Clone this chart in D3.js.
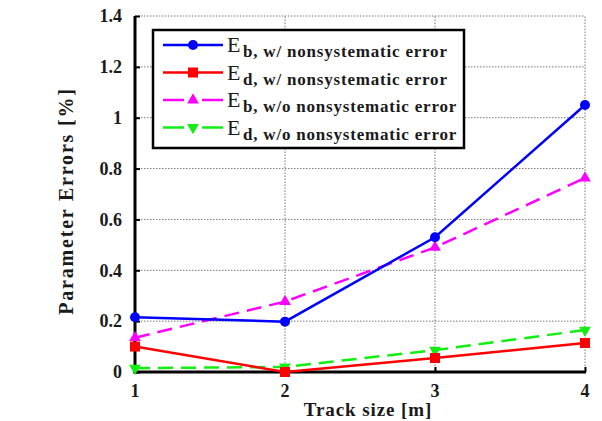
<!DOCTYPE html>
<html><head><meta charset="utf-8">
<script src="https://cdn.jsdelivr.net/npm/d3@7"></script>
<style>body{margin:0;background:#fff}svg{display:block}</style>
</head><body>
<script>
const trackSizes = [1, 2, 3, 4];
const ebWith = [0.215, 0.198, 0.53, 1.05];
const edWith = [0.10, 0.0, 0.055, 0.114];
const ebWithout = [0.135, 0.277, 0.49, 0.763];
const edWithout = [0.015, 0.02, 0.086, 0.165];
const yTicks = [0, 0.2, 0.4, 0.6, 0.8, 1, 1.2, 1.4];
const xTicks = [1, 2, 3, 4];
const seriesSubs = ["b, w/ nonsystematic error", "d, w/ nonsystematic error", "b, w/o nonsystematic error", "d, w/o nonsystematic error"];

const W = 602, H = 421;
const svg = d3.select("body").append("svg").attr("width", W).attr("height", H);
const x = d3.scaleLinear().domain([1, 4]).range([135, 585]);
const y = d3.scaleLinear().domain([0, 1.4]).range([372, 16]);
const font = "'Liberation Serif','Times New Roman',serif";
const txt = "#1a1a1a";

// grid
const g = svg.append("g");
g.selectAll(".hg").data(yTicks.slice(1)).enter().append("line")
  .attr("x1", x(1)).attr("x2", x(4)).attr("y1", d => y(d)).attr("y2", d => y(d))
  .attr("stroke", "#777").attr("stroke-width", 1).attr("stroke-dasharray", "1.5,1.5");
g.selectAll(".vg").data(xTicks.slice(1)).enter().append("line")
  .attr("y1", y(0)).attr("y2", y(1.4)).attr("x1", d => x(d)).attr("x2", d => x(d))
  .attr("stroke", "#777").attr("stroke-width", 1).attr("stroke-dasharray", "1.5,1.5");

// axes
const yAxis = d3.axisRight(y).tickValues(yTicks).tickSize(5).tickFormat("");
const ya = svg.append("g").attr("transform", `translate(${x(1)},0)`).call(yAxis);
ya.select(".domain").remove();
ya.selectAll("line").attr("stroke", "#000").attr("stroke-width", 2);
const xAxis = d3.axisTop(x).tickValues(xTicks).tickSize(5).tickFormat("");
const xa = svg.append("g").attr("transform", `translate(0,${y(0)})`).call(xAxis);
xa.select(".domain").remove();
xa.selectAll("line").attr("stroke", "#000").attr("stroke-width", 2);
svg.append("line").attr("x1", x(1)).attr("x2", x(1)).attr("y1", y(1.4)).attr("y2", y(0)+1.5)
  .attr("stroke", "#000").attr("stroke-width", 3);
svg.append("line").attr("x1", x(1)-1.5).attr("x2", x(4)+1).attr("y1", y(0)).attr("y2", y(0))
  .attr("stroke", "#000").attr("stroke-width", 3);

// tick labels
svg.selectAll(".yl").data(yTicks).enter().append("text")
  .attr("x", 122).attr("y", d => y(d)).attr("dy", "0.35em").attr("text-anchor", "end")
  .attr("font-family", font).attr("font-weight", "bold").attr("font-size", 18).attr("fill", txt)
  .text(d => d3.format("~g")(d));
svg.selectAll(".xl").data(xTicks).enter().append("text")
  .attr("x", d => x(d)).attr("y", 397).attr("text-anchor", "middle")
  .attr("font-family", font).attr("font-weight", "bold").attr("font-size", 18).attr("fill", txt)
  .text(d => d);
svg.append("text").attr("x", 368).attr("y", 416).attr("text-anchor", "middle")
  .attr("font-family", font).attr("font-weight", "bold").attr("font-size", 19).attr("letter-spacing", 0.9).attr("fill", txt)
  .text("Track size [m]");
svg.append("text").attr("transform", `translate(73,201) rotate(-90)`).attr("text-anchor", "middle")
  .attr("font-family", font).attr("font-weight", "bold").attr("font-size", 20).attr("letter-spacing", 1.8).attr("fill", txt)
  .text("Parameter Errors [%]");

// series
const series = [
  {vals: ebWith, color: "#0000ff", dash: null, marker: "circle"},
  {vals: edWith, color: "#ff0000", dash: null, marker: "square"},
  {vals: ebWithout, color: "#ff00ff", dash: "15,8", marker: "triangle"},
  {vals: edWithout, color: "#11ee11", dash: "15,8", marker: "tridown"}
];
const line = d3.line().x((d, i) => x(trackSizes[i])).y(d => y(d));
function drawMarker(sel, type, color, cx, cy) {
  if (type === "circle") sel.append("circle").attr("cx", cx).attr("cy", cy).attr("r", 5).attr("fill", color);
  else if (type === "square") sel.append("rect").attr("x", cx-5).attr("y", cy-5).attr("width", 10).attr("height", 10).attr("fill", color);
  else if (type === "triangle") sel.append("path").attr("d", d3.symbol(d3.symbolTriangle, 60)()).attr("transform", `translate(${cx},${cy})`).attr("fill", color);
  else sel.append("path").attr("d", d3.symbol(d3.symbolTriangle, 60)()).attr("transform", `translate(${cx},${cy}) rotate(180)`).attr("fill", color);
}
[3, 2, 1, 0].forEach(k => {
  const s = series[k];
  const gs = svg.append("g");
  gs.append("path").attr("d", line(s.vals)).attr("fill", "none").attr("stroke", s.color)
    .attr("stroke-width", 2.5).attr("stroke-dasharray", s.dash);
  s.vals.forEach((v, i) => drawMarker(gs, s.marker, s.color, x(trackSizes[i]), y(v)));
});

// legend
const lg = svg.append("g");
lg.append("rect").attr("x", 153).attr("y", 30).attr("width", 311).attr("height", 118)
  .attr("fill", "#fff").attr("stroke", "#000").attr("stroke-width", 2.5);
const rowY = [45, 72.5, 100, 127.5];
series.forEach((s, k) => {
  const segs = s.dash ? [[163, 184], [202, 223]] : [[163, 223]];
  segs.forEach(([a, b]) => lg.append("line").attr("x1", a).attr("x2", b).attr("y1", rowY[k]).attr("y2", rowY[k])
    .attr("stroke", s.color).attr("stroke-width", 2.5));
  drawMarker(lg, s.marker, s.color, 193, rowY[k]);
  lg.append("text").attr("x", 227).attr("y", rowY[k] + 7)
    .attr("font-family", font).attr("font-size", 22).attr("fill", txt).text("E");
  lg.append("text").attr("x", 243).attr("y", rowY[k] + 12)
    .attr("font-family", font).attr("font-weight", "bold").attr("font-size", 17).attr("letter-spacing", 0.8)
    .attr("fill", txt).text(seriesSubs[k]);
});
</script>
</body></html>
